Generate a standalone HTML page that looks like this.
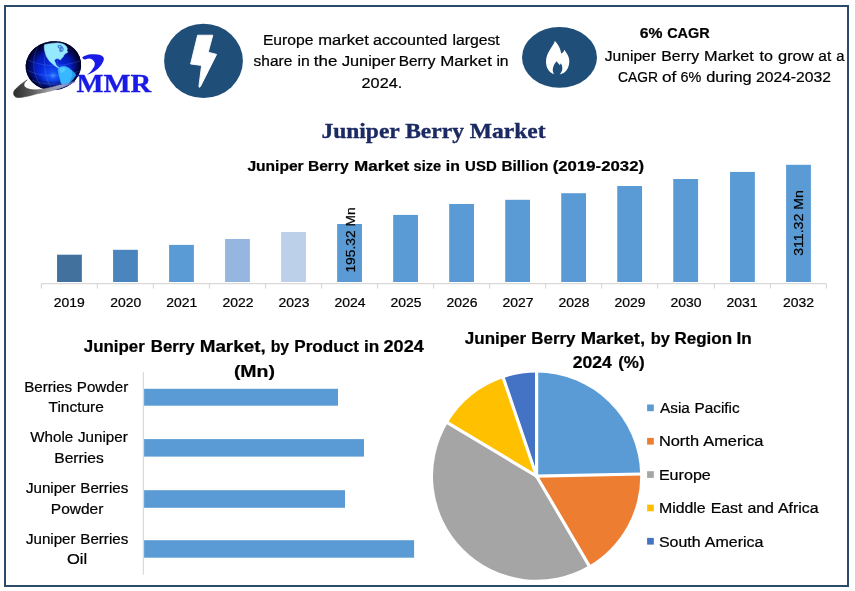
<!DOCTYPE html>
<html lang="en"><head><meta charset="utf-8"><title>Juniper Berry Market</title>
<style>
html,body{margin:0;padding:0;background:#fff;}
body{width:855px;height:591px;overflow:hidden;position:relative;}
svg{position:absolute;left:0;top:0;display:block;}
text{font-family:"Liberation Sans", Arial, sans-serif;fill:#000;stroke:#000;stroke-width:0.22px;}
.b{font-weight:700;}
.serif{font-family:"Liberation Serif", "Times New Roman", serif;font-weight:700;}
</style></head><body>
<svg width="855" height="591" viewBox="0 0 855 591">
<defs>
<radialGradient id="gl" cx="0.47" cy="0.70" r="0.6" fx="0.47" fy="0.70">
<stop offset="0" stop-color="#3d8dff"/><stop offset="0.12" stop-color="#1450f5"/><stop offset="0.45" stop-color="#0626d8"/><stop offset="0.8" stop-color="#0416a8"/><stop offset="1" stop-color="#020c70"/>
</radialGradient>
<radialGradient id="rim" cx="0.5" cy="0.5" r="0.5">
<stop offset="0" stop-color="#000030" stop-opacity="0"/><stop offset="0.6" stop-color="#000030" stop-opacity="0"/><stop offset="0.85" stop-color="#000030" stop-opacity="0.6"/><stop offset="1" stop-color="#00001c" stop-opacity="1"/>
</radialGradient>
<linearGradient id="sw" gradientUnits="userSpaceOnUse" x1="14" y1="0" x2="75" y2="0">
<stop offset="0" stop-color="#2e2e2e"/><stop offset="0.3" stop-color="#5a5a5a"/><stop offset="0.55" stop-color="#98989c"/><stop offset="0.8" stop-color="#98a0cc"/><stop offset="1" stop-color="#5060b8"/>
</linearGradient>
</defs>
<rect x="0" y="0" width="855" height="591" fill="#ffffff"/>
<rect x="5" y="6" width="843" height="580" fill="none" stroke="#294a6b" stroke-width="2"/>

<g id="logo">
<ellipse cx="53.4" cy="65.6" rx="27.8" ry="24.4" fill="url(#gl)" transform="rotate(-8 53.4 65.6)"/>
<ellipse cx="53.4" cy="65.6" rx="27.8" ry="24.4" fill="url(#rim)" transform="rotate(-8 53.4 65.6)"/>
<g fill="none" stroke="#7fb0ff" stroke-width="0.5" opacity="0.4">
<path d="M28,60 C40,66 60,68 80,61"/><path d="M27,70 C40,77 62,78 80,71"/><path d="M32,80 C42,85 60,86 74,81"/>
<path d="M38,47 C31,58 33,76 42,87"/><path d="M48,43 C42,58 44,78 52,89"/><path d="M58,42.5 C56,58 58,78 64,87.5"/>
</g>
<path d="M44.4,44.8 L48.4,43.9 L53.2,43.2 L57.9,42.9 L61.7,43.5 L64.5,44.8 L66.4,46.5 L67.4,48.4 L66.9,50.3 L67.8,52.2 L65.5,53.6 L64.0,55.1 L63.1,56.9 L61.7,58.1 L60.5,60.0 L59.0,59.0 L57.6,58.6 L56.2,58.8 L55.0,59.4 L54.5,60.6 L54.9,62.0 L55.6,63.2 L56.0,64.7 L57.1,66.2 L59.0,67.6 L57.4,67.6 L55.2,66.0 L53.3,64.5 L51.3,62.8 L49.6,61.3 L48.2,59.3 L46.7,56.9 L45.6,54.1 L44.8,51.3 L44.2,47.9 Z" fill="#95e9ff" stroke="#95e9ff" stroke-width="0.5" stroke-linejoin="round"/>
<path d="M57.4,45.4 L60.3,44.8 L62.6,46.5 L63.8,48.9 L63.1,51.3 L60.7,52.2 L59.0,50.8 L59.6,48.9 L57.9,47.5 Z" fill="#0a36c0" opacity="0.6"/>
<path d="M58.6,46 L60,45.8 L60.6,47 L59.4,47.4 Z M61.6,48.6 L62.8,49 L62.4,50.4 L61.2,50 Z M64.6,46.2 L65.8,47.2 L65.2,48.4 L64.2,47.4 Z" fill="#95e9ff" opacity="0.85"/>
<path d="M59.0,67.6 L61.7,66.4 L65.0,66.2 L68.3,67.8 L71.6,70.2 L74.9,73.5 L75.7,75.1 L74.0,77.8 L72.1,80.2 L69.7,82.3 L67.4,83.9 L64.5,84.6 L62.2,84.2 L60.9,82.5 L60.3,79.7 L59.3,75.9 L58.4,72.1 L58.2,69.3 Z" fill="#38b8ff" stroke="#38b8ff" stroke-width="0.5" stroke-linejoin="round"/>
<path d="M71.6,70.2 L74.9,73.5 L75.7,75.1 L74.0,77.8 L72.1,80.2 L69.7,82.3 L70.7,78.7 L72.6,75.4 L71.9,72.1 Z" fill="#1580e0" opacity="0.55"/>
<path d="M59.4,68.4 L63,67.2 L66,68.6 L64,72 L61,73 Z" fill="#6ad2ff" opacity="0.6"/>
<path d="M27.3,79.9 C23,82.5 20,85 18.5,86.4 C15.5,89 13.4,91 13.6,93.2 C13.8,95.7 15,96.9 16.6,97.3 C19,97.9 22,97.3 25.5,96.6 C30,95.8 33,94.8 37.2,93.7 C41,92.8 45,92.3 48.9,91.4 C53,90.4 57,89.2 60.6,88 C66,86.1 71,83.8 75.2,81.4 C70,83 65,84.2 60.6,85.0 C56,86.1 52,87.3 48.9,88.0 C45,88.9 41,89.6 37.2,89.8 C34,89.9 31,89.8 29,89.1 C26.5,88.3 25,87.4 24.4,86.3 C23.8,85.1 23.9,84 24.4,82.9 C25,81.6 26,80.6 27.3,79.9 Z" fill="url(#sw)" stroke="url(#sw)" stroke-width="0.7" stroke-linejoin="round"/>
<path d="M82.3,57.2 C85,55.4 88,54.6 91.1,54.3 C93.5,54.4 95.5,54.3 97.4,54.5 C100,54.8 102,55.6 103.2,57.1 C104,58.2 104,59.5 103.5,60.8 C102.5,63.6 100.6,66 98.4,68.2 C95,71.4 91,73.6 86.8,75 C89,73.5 90.8,71.6 92.1,69.7 C93.2,68 94.2,66.8 94.6,65.2 C95,63.8 94.8,62.4 93.9,61.3 C93,60.1 92.2,59.2 90.9,58.9 C89.4,58.2 87.5,58.6 85.8,59.2 C84.4,59.8 82.8,59.2 82.3,57.2 Z" fill="#1a1ae6"/>
<text x="76.4" y="92.2" class="serif" font-size="25.4" textLength="74.8" lengthAdjust="spacingAndGlyphs" style="fill:#1a1ae6;stroke:#1a1ae6;stroke-width:0.3">MMR</text>
</g>

<ellipse cx="203.5" cy="60.9" rx="39.4" ry="37.1" fill="#1f4e79"/>
<path d="M197.6,35.2 L212.8,35.2 L208.2,52.2 L216.6,54.4 L200.4,86.6 Q199.4,88.2 198.9,86.4 L201.6,65.4 L190.6,64 Z" fill="#fff" stroke="#fff" stroke-width="0.9" stroke-linejoin="round"/>
<ellipse cx="559.5" cy="57.4" rx="37.5" ry="30.4" fill="#1f4e79"/>
<path d="M554.8,40.9 C553.2,46.8 546,52 546,61.5 C546,68 549.2,72.8 554.2,74.3 C551.8,71 552.4,66 556.6,61.2 C557.6,63 558.8,63.2 559.6,65 C560.4,64.4 560.6,63.8 560.8,63.2 C563.4,67 562.6,71.6 559.6,74.4 C565.6,73.4 569.3,68 569.3,61.2 C569.3,56.2 566.4,53 564.4,49.8 C563.8,51.8 562.6,53 561.2,53.6 C560.6,48 557.6,43.6 554.8,40.9 Z" fill="#fff"/>

<text y="44.9" font-size="15.2"><tspan x="262.9" textLength="50.6" lengthAdjust="spacingAndGlyphs">Europe</tspan> <tspan x="318.3" textLength="50.6" lengthAdjust="spacingAndGlyphs">market</tspan> <tspan x="373.1" textLength="74.2" lengthAdjust="spacingAndGlyphs">accounted</tspan> <tspan x="452.4" textLength="47.3" lengthAdjust="spacingAndGlyphs">largest</tspan></text>
<text y="65.5" font-size="15.2"><tspan x="253.6" textLength="38.7" lengthAdjust="spacingAndGlyphs">share</tspan> <tspan x="297.5" textLength="12.3" lengthAdjust="spacingAndGlyphs">in</tspan> <tspan x="313.8" textLength="23.5" lengthAdjust="spacingAndGlyphs">the</tspan> <tspan x="341.9" textLength="53.5" lengthAdjust="spacingAndGlyphs">Juniper</tspan> <tspan x="398.7" textLength="36.7" lengthAdjust="spacingAndGlyphs">Berry</tspan> <tspan x="440.2" textLength="51.7" lengthAdjust="spacingAndGlyphs">Market</tspan> <tspan x="496.4" textLength="12.2" lengthAdjust="spacingAndGlyphs">in</tspan></text>
<text x="361.6" y="87.8" font-size="15.2" textLength="40.6" lengthAdjust="spacingAndGlyphs">2024.</text>
<text y="37.9" font-size="14.9" class="b"><tspan x="639.8" textLength="22.7" lengthAdjust="spacingAndGlyphs">6%</tspan> <tspan x="667.2" textLength="42.5" lengthAdjust="spacingAndGlyphs">CAGR</tspan></text>
<text y="60.6" font-size="15.2"><tspan x="604.8" textLength="51.1" lengthAdjust="spacingAndGlyphs">Juniper</tspan> <tspan x="661.3" textLength="37.8" lengthAdjust="spacingAndGlyphs">Berry</tspan> <tspan x="704.1" textLength="49.8" lengthAdjust="spacingAndGlyphs">Market</tspan> <tspan x="759.5" textLength="13.4" lengthAdjust="spacingAndGlyphs">to</tspan> <tspan x="778.0" textLength="35.6" lengthAdjust="spacingAndGlyphs">grow</tspan> <tspan x="818.3" textLength="12.9" lengthAdjust="spacingAndGlyphs">at</tspan> <tspan x="836.3" textLength="8.2" lengthAdjust="spacingAndGlyphs">a</tspan></text>
<text y="81.6" font-size="15.2"><tspan x="618.0" textLength="40.0" lengthAdjust="spacingAndGlyphs">CAGR</tspan> <tspan x="662.0" textLength="14.3" lengthAdjust="spacingAndGlyphs">of</tspan> <tspan x="680.6" textLength="20.8" lengthAdjust="spacingAndGlyphs">6%</tspan> <tspan x="706.2" textLength="45.5" lengthAdjust="spacingAndGlyphs">during</tspan> <tspan x="756.0" textLength="74.9" lengthAdjust="spacingAndGlyphs">2024-2032</tspan></text>
<text x="321.4" y="137.6" font-size="22" class="serif" textLength="224.1" lengthAdjust="spacingAndGlyphs" style="fill:#1b2a63;stroke:#1b2a63;stroke-width:0.35">Juniper Berry Market</text>
<text y="170.7" font-size="14.7" class="b"><tspan x="247.4" textLength="56.3" lengthAdjust="spacingAndGlyphs">Juniper</tspan> <tspan x="307.9" textLength="40.8" lengthAdjust="spacingAndGlyphs">Berry</tspan> <tspan x="354.0" textLength="55.1" lengthAdjust="spacingAndGlyphs">Market</tspan> <tspan x="413.6" textLength="27.6" lengthAdjust="spacingAndGlyphs">size</tspan> <tspan x="445.8" textLength="14.1" lengthAdjust="spacingAndGlyphs">in</tspan> <tspan x="465.1" textLength="31.6" lengthAdjust="spacingAndGlyphs">USD</tspan> <tspan x="501.5" textLength="46.9" lengthAdjust="spacingAndGlyphs">Billion</tspan> <tspan x="552.7" textLength="91.4" lengthAdjust="spacingAndGlyphs">(2019-2032)</tspan></text>
<rect x="57.05" y="254.7" width="24.8" height="27.3" fill="#41719c"/>
<rect x="113.07" y="249.8" width="24.8" height="32.2" fill="#4a86bd"/>
<rect x="169.09" y="244.9" width="24.8" height="37.1" fill="#5b9bd5"/>
<rect x="225.11" y="239" width="24.8" height="43.0" fill="#94b6df"/>
<rect x="281.13" y="232" width="24.8" height="50.0" fill="#bdd0ea"/>
<rect x="337.15" y="224" width="24.8" height="58.0" fill="#5b9bd5"/>
<rect x="393.17" y="214.9" width="24.8" height="67.1" fill="#5b9bd5"/>
<rect x="449.19" y="204" width="24.8" height="78.0" fill="#5b9bd5"/>
<rect x="505.21" y="199.8" width="24.8" height="82.2" fill="#5b9bd5"/>
<rect x="561.23" y="193.2" width="24.8" height="88.8" fill="#5b9bd5"/>
<rect x="617.25" y="186" width="24.8" height="96.0" fill="#5b9bd5"/>
<rect x="673.27" y="179" width="24.8" height="103.0" fill="#5b9bd5"/>
<rect x="730.05" y="171.9" width="24.8" height="110.1" fill="#5b9bd5"/>
<rect x="786.10" y="164.8" width="24.8" height="117.2" fill="#5b9bd5"/>
<path d="M41.2,283.7 H826.6" stroke="#d9d9d9" stroke-width="1.2" fill="none"/>
<path d="M41.40,283.7 V288.5" stroke="#d9d9d9" stroke-width="1.2" fill="none"/>
<path d="M97.42,283.7 V288.5" stroke="#d9d9d9" stroke-width="1.2" fill="none"/>
<path d="M153.44,283.7 V288.5" stroke="#d9d9d9" stroke-width="1.2" fill="none"/>
<path d="M209.46,283.7 V288.5" stroke="#d9d9d9" stroke-width="1.2" fill="none"/>
<path d="M265.48,283.7 V288.5" stroke="#d9d9d9" stroke-width="1.2" fill="none"/>
<path d="M321.50,283.7 V288.5" stroke="#d9d9d9" stroke-width="1.2" fill="none"/>
<path d="M377.52,283.7 V288.5" stroke="#d9d9d9" stroke-width="1.2" fill="none"/>
<path d="M433.54,283.7 V288.5" stroke="#d9d9d9" stroke-width="1.2" fill="none"/>
<path d="M489.56,283.7 V288.5" stroke="#d9d9d9" stroke-width="1.2" fill="none"/>
<path d="M545.58,283.7 V288.5" stroke="#d9d9d9" stroke-width="1.2" fill="none"/>
<path d="M601.60,283.7 V288.5" stroke="#d9d9d9" stroke-width="1.2" fill="none"/>
<path d="M657.62,283.7 V288.5" stroke="#d9d9d9" stroke-width="1.2" fill="none"/>
<path d="M714.40,283.7 V288.5" stroke="#d9d9d9" stroke-width="1.2" fill="none"/>
<path d="M770.45,283.7 V288.5" stroke="#d9d9d9" stroke-width="1.2" fill="none"/>
<path d="M826.40,283.7 V288.5" stroke="#d9d9d9" stroke-width="1.2" fill="none"/>
<text x="53.85" y="306.9" font-size="12.6" textLength="31.0" lengthAdjust="spacingAndGlyphs">2019</text>
<text x="110.37" y="306.9" font-size="12.6" textLength="31.0" lengthAdjust="spacingAndGlyphs">2020</text>
<text x="166.39" y="306.9" font-size="12.6" textLength="31.0" lengthAdjust="spacingAndGlyphs">2021</text>
<text x="222.41" y="306.9" font-size="12.6" textLength="31.0" lengthAdjust="spacingAndGlyphs">2022</text>
<text x="278.43" y="306.9" font-size="12.6" textLength="31.0" lengthAdjust="spacingAndGlyphs">2023</text>
<text x="334.45" y="306.9" font-size="12.6" textLength="31.0" lengthAdjust="spacingAndGlyphs">2024</text>
<text x="390.47" y="306.9" font-size="12.6" textLength="31.0" lengthAdjust="spacingAndGlyphs">2025</text>
<text x="446.49" y="306.9" font-size="12.6" textLength="31.0" lengthAdjust="spacingAndGlyphs">2026</text>
<text x="502.51" y="306.9" font-size="12.6" textLength="31.0" lengthAdjust="spacingAndGlyphs">2027</text>
<text x="558.53" y="306.9" font-size="12.6" textLength="31.0" lengthAdjust="spacingAndGlyphs">2028</text>
<text x="614.55" y="306.9" font-size="12.6" textLength="31.0" lengthAdjust="spacingAndGlyphs">2029</text>
<text x="670.57" y="306.9" font-size="12.6" textLength="31.0" lengthAdjust="spacingAndGlyphs">2030</text>
<text x="726.55" y="306.9" font-size="12.6" textLength="31.0" lengthAdjust="spacingAndGlyphs">2031</text>
<text x="782.9" y="306.9" font-size="12.6" textLength="31.0" lengthAdjust="spacingAndGlyphs">2032</text>
<text transform="translate(354.6,272.6) rotate(-90)" font-size="13.3" textLength="65.2" lengthAdjust="spacingAndGlyphs">195.32 Mn</text>
<text transform="translate(802.7,255.8) rotate(-90)" font-size="13.2" textLength="65.6" lengthAdjust="spacingAndGlyphs">311.32 Mn</text>
<text y="352.1" font-size="17" class="b"><tspan x="83.8" textLength="61.0" lengthAdjust="spacingAndGlyphs">Juniper</tspan> <tspan x="150.8" textLength="43.9" lengthAdjust="spacingAndGlyphs">Berry</tspan> <tspan x="199.7" textLength="66.0" lengthAdjust="spacingAndGlyphs">Market,</tspan> <tspan x="270.7" textLength="18.5" lengthAdjust="spacingAndGlyphs">by</tspan> <tspan x="294.3" textLength="64.6" lengthAdjust="spacingAndGlyphs">Product</tspan> <tspan x="364.0" textLength="15.3" lengthAdjust="spacingAndGlyphs">in</tspan> <tspan x="383.5" textLength="40.3" lengthAdjust="spacingAndGlyphs">2024</tspan></text>
<text x="233.9" y="376.5" font-size="17" class="b" textLength="41.1" lengthAdjust="spacingAndGlyphs">(Mn)</text>
<path d="M143.4,372 V574.8" stroke="#d9d9d9" stroke-width="1.2" fill="none"/>
<rect x="144.1" y="388.8" width="193.9" height="16.9" fill="#5b9bd5"/>
<rect x="144.1" y="439.1" width="219.9" height="17.5" fill="#5b9bd5"/>
<rect x="144.1" y="490.2" width="200.9" height="17.6" fill="#5b9bd5"/>
<rect x="144.1" y="540.2" width="270.0" height="17.5" fill="#5b9bd5"/>
<text x="24.2" y="391.7" font-size="14.8" word-spacing="0.5" textLength="104.0" lengthAdjust="spacingAndGlyphs">Berries Powder</text>
<text x="48.5" y="412.2" font-size="14.8" textLength="55.4" lengthAdjust="spacingAndGlyphs">Tincture</text>
<text x="30.3" y="442.3" font-size="14.8" word-spacing="0.5" textLength="97.4" lengthAdjust="spacingAndGlyphs">Whole Juniper</text>
<text x="54.3" y="462.8" font-size="14.8" textLength="49.4" lengthAdjust="spacingAndGlyphs">Berries</text>
<text x="25.9" y="493.0" font-size="14.8" word-spacing="0.5" textLength="102.4" lengthAdjust="spacingAndGlyphs">Juniper Berries</text>
<text x="50.8" y="513.5" font-size="14.8" textLength="52.6" lengthAdjust="spacingAndGlyphs">Powder</text>
<text x="25.9" y="543.6" font-size="14.8" word-spacing="0.5" textLength="102.4" lengthAdjust="spacingAndGlyphs">Juniper Berries</text>
<text x="67.0" y="564.1" font-size="14.8" textLength="20.2" lengthAdjust="spacingAndGlyphs">Oil</text>
<text y="344.0" font-size="17" class="b"><tspan x="464.8" textLength="61.4" lengthAdjust="spacingAndGlyphs">Juniper</tspan> <tspan x="531.3" textLength="44.2" lengthAdjust="spacingAndGlyphs">Berry</tspan> <tspan x="580.7" textLength="64.4" lengthAdjust="spacingAndGlyphs">Market,</tspan> <tspan x="650.7" textLength="19.2" lengthAdjust="spacingAndGlyphs">by</tspan> <tspan x="674.5" textLength="57.6" lengthAdjust="spacingAndGlyphs">Region</tspan> <tspan x="736.5" textLength="15.2" lengthAdjust="spacingAndGlyphs">In</tspan></text>
<text y="368.1" font-size="17" class="b"><tspan x="572.8" textLength="39.1" lengthAdjust="spacingAndGlyphs">2024</tspan> <tspan x="618.2" textLength="26.5" lengthAdjust="spacingAndGlyphs">(%)</tspan></text>
<path d="M536.6,476.2 L536.60,372.60 A103.6,103.6 0 0 1 640.18,474.03 Z" fill="#5b9bd5"/>
<path d="M536.6,476.2 L640.18,474.03 A103.6,103.6 0 0 1 589.03,565.56 Z" fill="#ed7d31"/>
<path d="M536.6,476.2 L589.03,565.56 A103.6,103.6 0 0 1 447.80,422.84 Z" fill="#a5a5a5"/>
<path d="M536.6,476.2 L447.80,422.84 A103.6,103.6 0 0 1 503.38,378.07 Z" fill="#ffc000"/>
<path d="M536.6,476.2 L503.38,378.07 A103.6,103.6 0 0 1 536.60,372.60 Z" fill="#4472c4"/>
<path d="M536.6,476.2 L536.60,371.10" stroke="#fff" stroke-width="3.2" stroke-linecap="round" fill="none"/>
<path d="M536.6,476.2 L641.68,474.00" stroke="#fff" stroke-width="3.2" stroke-linecap="round" fill="none"/>
<path d="M536.6,476.2 L589.78,566.85" stroke="#fff" stroke-width="3.2" stroke-linecap="round" fill="none"/>
<path d="M536.6,476.2 L446.51,422.07" stroke="#fff" stroke-width="3.2" stroke-linecap="round" fill="none"/>
<path d="M536.6,476.2 L502.90,376.65" stroke="#fff" stroke-width="3.2" stroke-linecap="round" fill="none"/>
<rect x="647.1" y="404.5" width="6.7" height="6.7" fill="#5b9bd5"/>
<text x="660.1" y="413.0" font-size="14.9" word-spacing="0.5" textLength="79.5" lengthAdjust="spacingAndGlyphs">Asia Pacific</text>
<rect x="647.1" y="437.9" width="6.7" height="6.7" fill="#ed7d31"/>
<text x="658.9" y="446.4" font-size="14.9" word-spacing="0.5" textLength="104.5" lengthAdjust="spacingAndGlyphs">North America</text>
<rect x="647.1" y="471.2" width="6.7" height="6.7" fill="#a5a5a5"/>
<text x="658.9" y="479.8" font-size="14.9" textLength="51.9" lengthAdjust="spacingAndGlyphs">Europe</text>
<rect x="647.1" y="504.6" width="6.7" height="6.7" fill="#ffc000"/>
<text x="658.9" y="513.2" font-size="14.9" word-spacing="0.5" textLength="159.7" lengthAdjust="spacingAndGlyphs">Middle East and Africa</text>
<rect x="647.1" y="537.9" width="6.7" height="6.7" fill="#4472c4"/>
<text x="658.9" y="546.6" font-size="14.9" word-spacing="0.5" textLength="104.5" lengthAdjust="spacingAndGlyphs">South America</text>
</svg></body></html>
